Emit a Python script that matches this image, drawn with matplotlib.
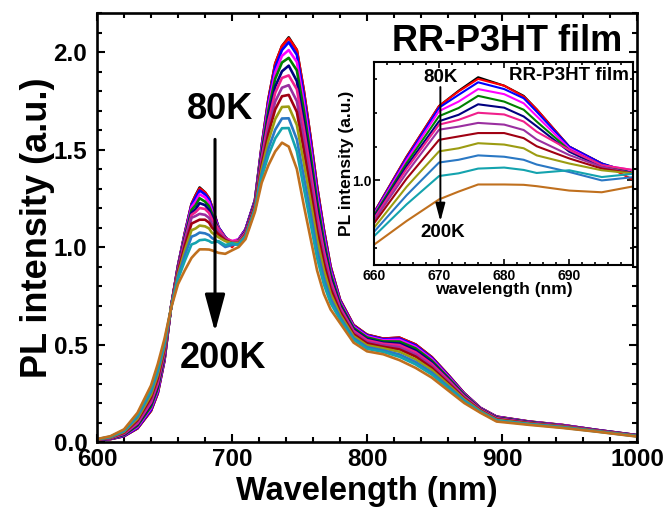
import matplotlib
matplotlib.use('Agg')
import matplotlib.pyplot as plt
from matplotlib.ticker import MultipleLocator

plt.rcParams['font.family'] = ['Liberation Sans', 'DejaVu Sans']
plt.rcParams['font.weight'] = 'bold'

# wavelength grid (nm) shared by all spectra
wavelength = [600, 610, 620, 630, 640, 645, 650, 655, 660, 665, 670, 673, 676, 680, 683, 685,
              690, 695, 700, 705, 710, 717, 722, 727, 732, 737, 742, 748, 753, 758,
              763, 768, 773, 780, 790, 800, 812, 824, 836, 848, 860, 872, 884, 896,
              920, 945, 970, 1000]

# PL spectra of RR-P3HT film, 80K -> 200K
pl_80K = [.010, .015, .030, .070, .160, .250, .420, .700, .905, 1.070, 1.22, 1.265, 1.305, 1.28, 1.25, 1.21,
          1.10, 1.05, 1.02, 1.04, 1.09, 1.24, 1.52, 1.76, 1.94, 2.03, 2.075, 2.01, 1.81, 1.57,
          1.31, 1.09, .90, .73, .60, .55, .53, .535, .50, .435, .345, .25, .175, .13,
          .105, .087, .062, .035]
pl_90K = [.010, .015, .030, .070, .160, .250, .420, .700, .905, 1.070, 1.22, 1.263, 1.30, 1.28, 1.248, 1.21,
          1.10, 1.05, 1.00, 1.04, 1.09, 1.24, 1.52, 1.76, 1.94, 2.03, 2.07, 2.01, 1.81, 1.57,
          1.31, 1.09, .90, .73, .60, .55, .53, .535, .50, .435, .345, .25, .175, .13,
          .105, .087, .062, .035]
pl_100K = [.010, .016, .031, .073, .165, .256, .424, .700, .903, 1.066, 1.215, 1.253, 1.29, 1.27, 1.243, 1.203,
           1.10, 1.05, 1.02, 1.04, 1.09, 1.24, 1.512, 1.746, 1.922, 2.01, 2.05, 1.986, 1.786, 1.549,
           1.293, 1.077, .891, .725, .596, .547, .527, .530, .495, .431, .342, .248, .174, .129,
           .104, .086, .062, .035]
pl_110K = [.011, .017, .034, .078, .173, .265, .431, .699, .900, 1.060, 1.205, 1.233, 1.27, 1.255, 1.228, 1.190,
           1.095, 1.045, 1.03, 1.04, 1.085, 1.235, 1.501, 1.726, 1.895, 1.98, 2.01, 1.949, 1.751, 1.518,
           1.267, 1.057, .878, .718, .591, .542, .522, .524, .488, .425, .337, .245, .173, .128,
           .103, .086, .061, .034]
pl_120K = [.011, .018, .036, .084, .182, .276, .439, .698, .896, 1.051, 1.19, 1.214, 1.25, 1.233, 1.209, 1.174,
           1.09, 1.045, 1.02, 1.035, 1.08, 1.23, 1.488, 1.702, 1.863, 1.946, 1.97, 1.906, 1.71, 1.482,
           1.237, 1.034, .863, .71, .585, .536, .516, .515, .48, .417, .331, .242, .171, .126,
           .102, .084, .060, .034]
pl_130K = [.011, .019, .039, .091, .194, .289, .449, .697, .891, 1.042, 1.175, 1.194, 1.225, 1.215, 1.189, 1.160,
           1.085, 1.04, 1.02, 1.03, 1.08, 1.225, 1.471, 1.672, 1.823, 1.901, 1.93, 1.851, 1.657, 1.435,
           1.198, 1.004, .843, .699, .577, .528, .509, .505, .469, .408, .324, .237, .169, .124,
           .101, .083, .060, .033]
pl_140K = [.012, .020, .042, .096, .203, .300, .456, .697, .887, 1.034, 1.165, 1.179, 1.20, 1.195, 1.174, 1.144,
           1.09, 1.045, 1.03, 1.03, 1.075, 1.22, 1.457, 1.648, 1.791, 1.867, 1.88, 1.809, 1.615, 1.398,
           1.168, .981, .827, .69, .57, .522, .504, .497, .46, .40, .319, .234, .167, .122,
           .099, .082, .059, .033]
pl_150K = [.012, .021, .045, .104, .216, .315, .467, .696, .881, 1.022, 1.15, 1.159, 1.17, 1.165, 1.149, 1.121,
           1.075, 1.04, 1.02, 1.025, 1.07, 1.215, 1.438, 1.614, 1.746, 1.817, 1.83, 1.748, 1.556, 1.346,
           1.125, .948, .805, .678, .561, .513, .496, .486, .448, .39, .311, .229, .164, .119,
           .098, .081, .058, .032]
pl_160K = [.013, .023, .048, .112, .228, .328, .477, .695, .873, 1.005, 1.12, 1.130, 1.14, 1.14, 1.125, 1.101,
           1.065, 1.035, 1.02, 1.02, 1.065, 1.21, 1.421, 1.583, 1.706, 1.773, 1.78, 1.693, 1.503, 1.30,
           1.086, .918, .786, .668, .553, .506, .488, .475, .438, .38, .303, .224, .162, .117,
           .096, .079, .057, .031]
pl_170K = [.013, .024, .052, .120, .242, .345, .489, .694, .860, .981, 1.086, 1.095, 1.11, 1.106, 1.095, 1.074,
           1.05, 1.03, 1.02, 1.02, 1.06, 1.20, 1.40, 1.546, 1.656, 1.718, 1.72, 1.626, 1.438, 1.242,
           1.039, .882, .761, .654, .543, .496, .48, .463, .424, .369, .295, .219, .159, .114,
           .094, .078, .056, .031]
pl_180K = [.014, .026, .056, .130, .258, .363, .503, .693, .848, .956, 1.053, 1.061, 1.074, 1.07, 1.061, 1.047,
           1.025, 1.00, 1.01, 1.015, 1.055, 1.195, 1.377, 1.505, 1.602, 1.659, 1.66, 1.552, 1.367, 1.18,
           .987, .842, .735, .64, .533, .486, .47, .449, .41, .356, .285, .213, .156, .111,
           .092, .076, .055, .030]
pl_190K = [.014, .028, .060, .138, .271, .378, .514, .692, .835, .929, 1.013, 1.021, 1.035, 1.038, 1.031, 1.022,
           1.03, 1.01, 1.02, 1.01, 1.05, 1.19, 1.358, 1.471, 1.557, 1.609, 1.61, 1.491, 1.308, 1.128,
           .944, .809, .713, .628, .524, .478, .462, .437, .398, .346, .277, .208, .154, .109,
           .091, .074, .054, .029]
pl_200K = [.015, .030, .065, .150, .290, .400, .530, .690, .810, .880, .944, .967, .988, .988, .987, .983,
           .97, .965, .983, 1.00, 1.04, 1.18, 1.33, 1.42, 1.49, 1.535, 1.515, 1.40, 1.22, 1.05,
           .88, .76, .68, .61, .51, .465, .45, .42, .38, .33, .265, .20, .15, .105,
           .088, .072, .053, .028]

spectra = [pl_80K, pl_90K, pl_100K, pl_110K, pl_120K, pl_130K, pl_140K,
           pl_150K, pl_160K, pl_170K, pl_180K, pl_190K, pl_200K]
colors = ['#000000', '#FF0000', '#0000FF', '#FF00FF', '#008000', '#000080', '#F0208C',
          '#9A2FA0', '#A00012', '#9C9C12', '#2A78C4', '#14A3AE', '#C0701E']

fig = plt.figure(figsize=(6.7, 5.12), dpi=100)

# main panel
ax = fig.add_axes([0.1448, 0.1367, 0.806, 0.8379])
for y, c in zip(spectra, colors):
    ax.plot(wavelength, y, color=c, linewidth=1.9)

ax.set_xlim(600, 1000)
ax.set_ylim(0, 2.2)
ax.xaxis.set_major_locator(MultipleLocator(100))
ax.xaxis.set_minor_locator(MultipleLocator(20))
ax.yaxis.set_major_locator(MultipleLocator(0.5))
ax.yaxis.set_minor_locator(MultipleLocator(0.1))
ax.tick_params(which='both', direction='in', top=True, right=True, width=1.5, labelsize=17.5)
ax.tick_params(which='major', length=6)
ax.tick_params(which='minor', length=3.5)
ax.tick_params(axis='x', pad=4.5)
ax.tick_params(axis='y', pad=7)
for s in ax.spines.values():
    s.set_linewidth(1.9)

ax.set_xlabel('Wavelength (nm)', fontsize=23.5, fontweight='bold')
ax.set_ylabel('PL intensity (a.u.)', fontsize=26, fontweight='bold')
ax.xaxis.set_label_coords(0.5, -0.079)
ax.yaxis.set_label_coords(-0.078, 0.5)

ax.text(691, 1.655, '80K', fontsize=26, fontweight='bold', ha='center', va='baseline')
ax.text(693, 0.38, '200K', fontsize=26, fontweight='bold', ha='center', va='baseline')
ax.annotate('', xy=(687.4, 0.565), xytext=(687.4, 1.552),
            arrowprops=dict(arrowstyle='-|>,head_width=0.31,head_length=1.15',
                            mutation_scale=20, lw=2.2, color='black',
                            shrinkA=0, shrinkB=0))
ax.text(903.7, 2.004, 'RR-P3HT film', fontsize=26, fontweight='bold',
        ha='center', va='baseline')

# inset: zoom on the 0-0 peak
ins = fig.add_axes([0.5582, 0.4824, 0.3866, 0.3965])
for y, c in zip(spectra, colors):
    ins.plot(wavelength, y, color=c, linewidth=1.5)

ins.set_xlim(660, 699.8)
ins.set_ylim(0.75, 1.35)
ins.xaxis.set_major_locator(MultipleLocator(10))
ins.xaxis.set_minor_locator(MultipleLocator(2))
ins.yaxis.set_major_locator(MultipleLocator(0.5))
ins.yaxis.set_minor_locator(MultipleLocator(0.1))
ins.tick_params(which='both', direction='in', top=True, right=True, width=1.2, labelsize=10)
ins.tick_params(which='major', length=4)
ins.tick_params(which='minor', length=2.2)
ins.tick_params(axis='x', pad=3)
ins.tick_params(axis='y', pad=1.5)
for s in ins.spines.values():
    s.set_linewidth(1.5)

ins.set_xlabel('wavelength (nm)', fontsize=12.5, fontweight='bold')
ins.set_ylabel('PL intensity (a.u.)', fontsize=12.5, fontweight='bold')
ins.xaxis.set_label_coords(0.5, -0.084)
ins.yaxis.set_label_coords(-0.078, 0.5)

ins.text(670.2, 1.291, '80K', fontsize=13.5, fontweight='bold', ha='center', va='baseline')
ins.text(670.6, 0.832, '200K', fontsize=13.5, fontweight='bold', ha='center', va='baseline')
ins.annotate('', xy=(670.2, 0.879), xytext=(670.2, 1.276),
             arrowprops=dict(arrowstyle='-|>,head_width=0.29,head_length=1.08',
                             mutation_scale=10, lw=1.4, color='black',
                             shrinkA=0, shrinkB=0))
ins.text(690.0, 1.297, 'RR-P3HT film', fontsize=13.5, fontweight='bold',
         ha='center', va='baseline')

fig.savefig('out.png', dpi=100)
